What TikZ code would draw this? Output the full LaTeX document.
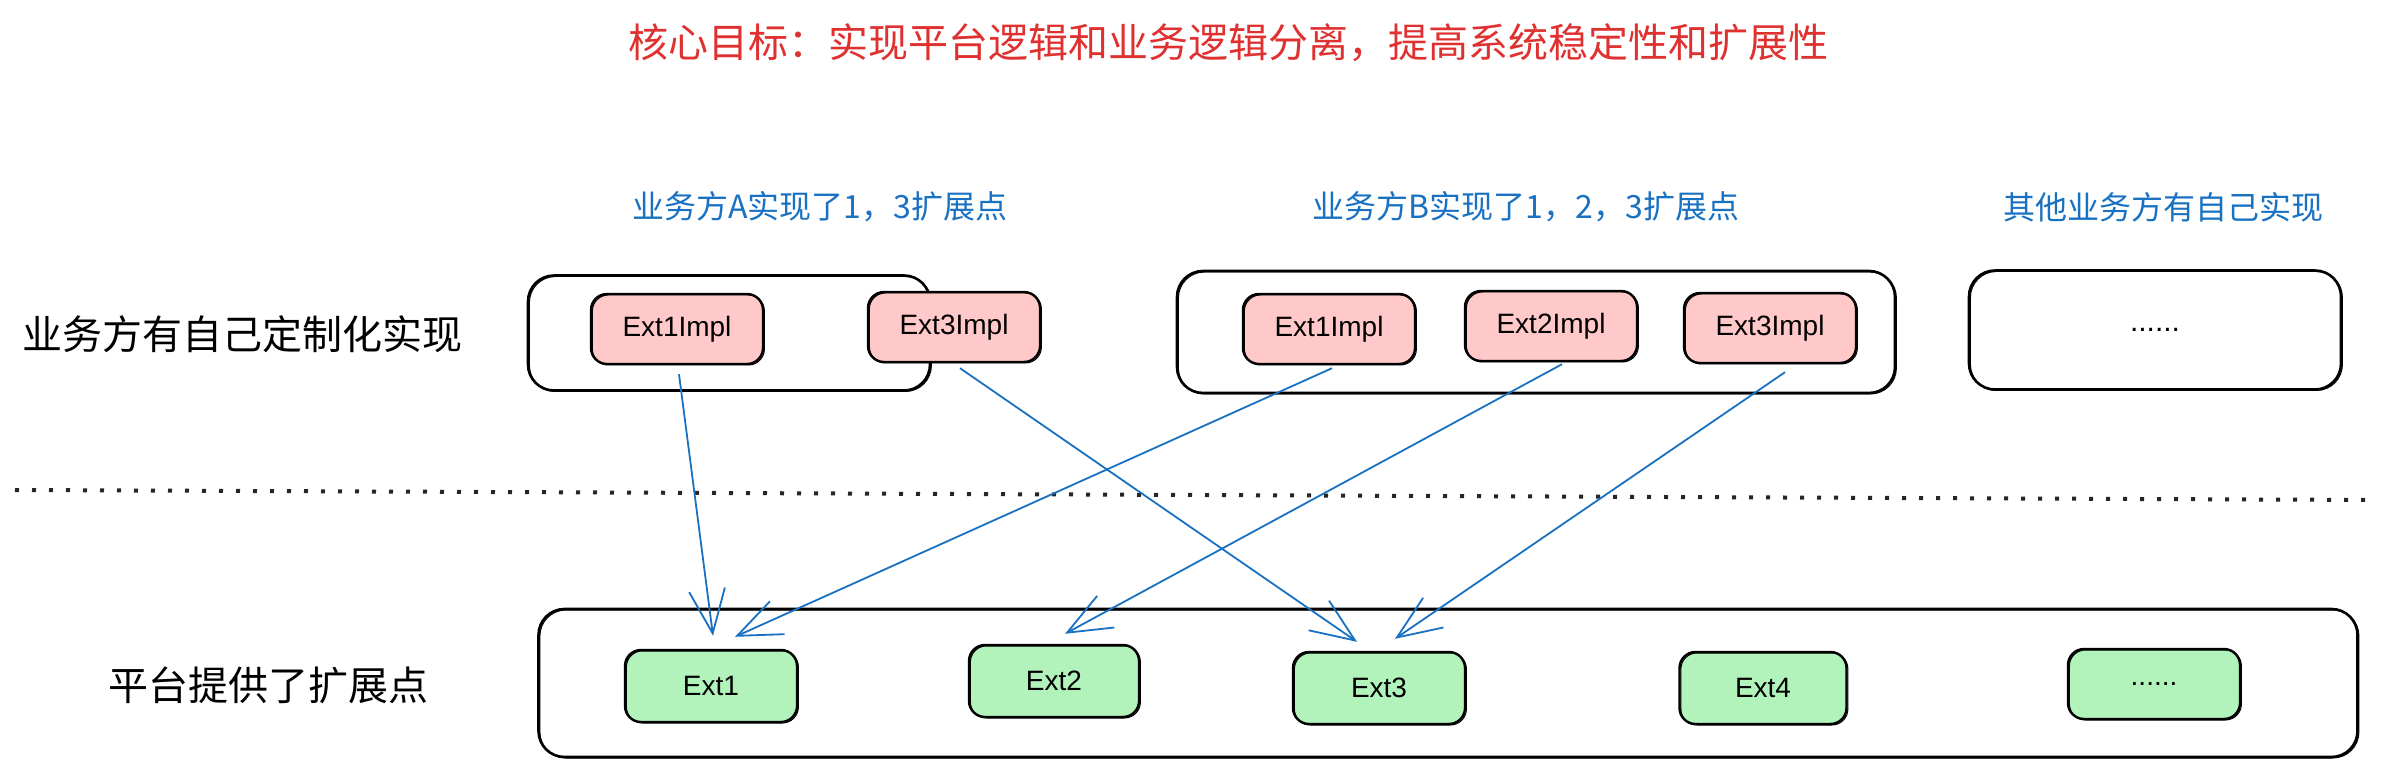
\documentclass[tikz,border=0pt]{standalone}
\usepackage{fontspec}
\setmainfont{Liberation Sans}
\newfontfamily\cjk{Noto Sans CJK SC}
\usetikzlibrary{arrows.meta}
\definecolor{titlered}{HTML}{E03131}
\definecolor{lblue}{HTML}{1971C2}
\definecolor{pinkfill}{HTML}{FFC9C9}
\definecolor{greenfill}{HTML}{B2F2BB}
\tikzset{
  sketch/.style={postaction={draw,line width=0.5pt,transform canvas={xshift=0.7pt,yshift=-0.5pt}}},
  container/.style={draw=black,line width=1.3pt,rounded corners=13pt,sketch,inner sep=0pt},
  implbox/.style={draw=black,fill=pinkfill,line width=1.2pt,rounded corners=8pt,sketch,
    minimum width=86pt,minimum height=35pt,inner sep=0pt,font=\fontsize{14pt}{17pt}\selectfont},
  extbox/.style={draw=black,fill=greenfill,line width=1.2pt,rounded corners=8pt,sketch,
    minimum width=86pt,minimum height=36pt,inner sep=0pt,font=\fontsize{14pt}{17pt}\selectfont},
  titletxt/.style={text=titlered,font=\cjk\fontsize{20pt}{24pt}\selectfont},
  bluetxt/.style={text=lblue,font=\cjk\fontsize{16pt}{19pt}\selectfont},
  lefttxt/.style={text=black,font=\cjk\fontsize{20pt}{24pt}\selectfont},
  arr/.style={draw=lblue,line width=0.9pt,-{Straight Barb[length=22pt,width=18pt,line width=0.9pt]}},
  dotline/.style={draw=black!85,line width=2pt,dash pattern=on 2pt off 6.5pt}
}
\begin{document}
\begin{tikzpicture}[x=0.5pt,y=-0.5pt]
\useasboundingbox[fill=white] (0,0) rectangle (2388,780);

% texts
\node[titletxt] (title) at (1228,43) {核心目标：实现平台逻辑和业务逻辑分离，提高系统稳定性和扩展性};
\node[bluetxt] (la) at (820,207) {业务方A实现了1，3扩展点};
\node[bluetxt] (lb) at (1526,207) {业务方B实现了1，2，3扩展点};
\node[bluetxt] (lc) at (2163,207) {其他业务方有自己实现};
\node[lefttxt] (left1) at (242,334) {业务方有自己定制化实现};
\node[lefttxt] (left2) at (268,685) {平台提供了扩展点};

% containers
\node[container,minimum width=201pt,minimum height=57.5pt] (cA) at (729,333) {};
\node[container,minimum width=359pt,minimum height=61pt] (cB) at (1536,332) {};
\node[container,minimum width=186pt,minimum height=59.5pt,font=\fontsize{15pt}{18pt}\selectfont] (cC) at (2155,330) {......};
\node[container,minimum width=909.5pt,minimum height=74pt] (cP) at (1448,683) {};

% impl boxes
\node[implbox] (iA1) at (677,329) {Ext1Impl};
\node[implbox] (iA3) at (954,327) {Ext3Impl};
\node[implbox] (iB1) at (1329,329) {Ext1Impl};
\node[implbox] (iB2) at (1551,326) {Ext2Impl};
\node[implbox] (iB3) at (1770,328) {Ext3Impl};

% ext boxes
\node[extbox] (e1) at (711,686) {Ext1};
\node[extbox,minimum width=85pt] (e2) at (1054,681) {Ext2};
\node[extbox] (e3) at (1379,688) {Ext3};
\node[extbox,minimum width=83.5pt] (e4) at (1763,688) {Ext4};
\node[extbox,minimum width=86pt,minimum height=35pt] (e5) at (2154,684) {......};

% dotted separator
\coordinate (dl) at (15,490);
\coordinate (dr) at (2373,500);
\draw[dotline] (dl) -- (dr);

% arrows
\draw[arr] ([shift={(2,9)}]iA1.south) -- ([shift={(2,-13)}]e1.north);
\draw[arr] ([shift={(6,5)}]iA3.south) -- ([shift={(-22,-9)}]e3.north);
\draw[arr] ([shift={(3,3)}]iB1.south) -- ([shift={(24,-12)}]e1.north);
\draw[arr] ([shift={(11,2)}]iB2.south) -- ([shift={(11,-10)}]e2.north);
\draw[arr] ([shift={(15,8)}]iB3.south) -- ([shift={(16,-12)}]e3.north);
\end{tikzpicture}
\end{document}
